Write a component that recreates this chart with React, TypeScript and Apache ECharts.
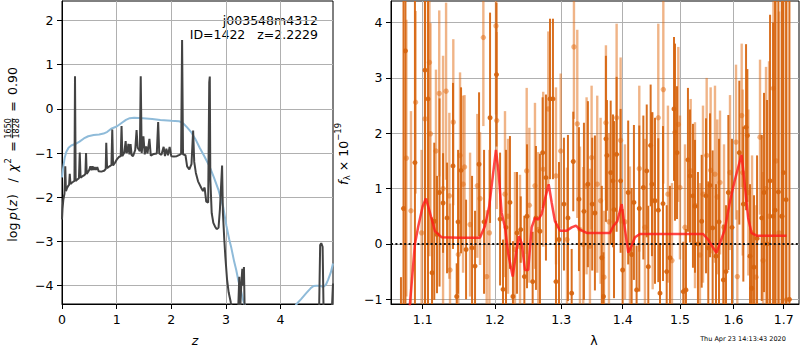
import React, { useEffect, useRef } from 'react';
import * as echarts from 'echarts';

const FONT = "'DejaVu Sans', sans-serif";

const Z_TICKS = [0, 1, 2, 3, 4];
const LOGP_TICKS = [-4, -3, -2, -1, 0, 1, 2];
const LAMBDA_TICKS = [1.1, 1.2, 1.3, 1.4, 1.5, 1.6, 1.7];
const FLUX_TICKS = [-1, 0, 1, 2, 3, 4];

// [z, log p(z)] smooth prior-like curve (blue)
const PZ_SMOOTH = [
  [0, -1.55], [0.02, -1.35], [0.05, -1.1], [0.08, -0.97], [0.12, -0.88], [0.17, -0.83], [0.25, -0.79],
  [0.32, -0.74], [0.4, -0.67], [0.48, -0.62], [0.58, -0.59], [0.68, -0.58], [0.76, -0.56], [0.83, -0.52],
  [0.9, -0.45], [1.0, -0.4], [1.09, -0.32], [1.17, -0.25], [1.24, -0.21], [1.32, -0.2], [1.48, -0.21],
  [1.65, -0.23], [1.8, -0.25], [2.0, -0.27], [2.14, -0.28], [2.22, -0.33], [2.29, -0.42], [2.36, -0.52],
  [2.44, -0.68], [2.52, -0.88], [2.6, -1.06], [2.7, -1.3], [2.78, -1.55], [2.86, -1.82], [2.95, -2.22],
  [3.01, -2.65], [3.06, -2.95], [3.1, -3.15], [3.15, -3.45], [3.19, -3.65], [3.23, -3.9], [3.27, -4.08],
  [3.32, -4.35], [3.38, -4.55], [3.6, -4.9], [4.05, -4.9], [4.29, -4.42], [4.38, -4.3], [4.47, -4.17],
  [4.55, -4.06], [4.6, -4.01], [4.66, -4.0], [4.72, -4.0], [4.78, -4.03], [4.83, -3.98], [4.87, -3.87],
  [4.92, -3.7], [4.96, -3.5],
];

// [z, log p(z)] fitted redshift probability (dark)
const PZ_FIT = [
  [0, -2.5], [0.01, -2.25], [0.025, -2.05], [0.045, -1.92], [0.06, -1.3], [0.072, -1.86], [0.09, -1.8],
  [0.115, -1.74], [0.13, -1.72], [0.142, -1.47], [0.155, -1.7], [0.18, -1.67], [0.205, -1.65], [0.228, -1.63],
  [0.238, 0.74], [0.25, -1.63], [0.28, -1.6], [0.31, -1.57], [0.325, -0.99], [0.34, -1.56], [0.37, -1.53],
  [0.41, -1.5], [0.428, -1.47], [0.44, -1.0], [0.452, -1.47], [0.48, -1.42], [0.5, -1.38], [0.52, -1.3],
  [0.54, -1.39], [0.56, -1.3], [0.58, -1.38], [0.6, -1.32], [0.62, -1.38], [0.645, -1.32], [0.67, -1.41],
  [0.72, -1.42], [0.77, -1.4], [0.8, -1.36], [0.81, -0.77], [0.825, -1.34], [0.87, -1.3], [0.905, -1.27],
  [0.92, -0.47], [0.935, -1.28], [0.97, -1.22], [1.0, -1.15], [1.04, -1.09], [1.075, -1.07], [1.09, -0.39],
  [1.105, -1.07], [1.14, -0.99], [1.165, -0.73], [1.18, -1.0], [1.2, -0.96], [1.215, -0.79], [1.235, -1.03],
  [1.255, -0.8], [1.275, -1.05], [1.3, -1.07], [1.34, -0.93], [1.365, -0.48], [1.385, -0.88], [1.425, -0.96],
  [1.441, 0.74], [1.458, -1.0], [1.49, -0.62], [1.515, -1.03], [1.54, -0.85], [1.565, -1.01], [1.6, -0.68],
  [1.625, -1.06], [1.68, -1.02], [1.735, -1.01], [1.76, -0.3], [1.78, -1.01], [1.82, -1.04], [1.86, -0.86],
  [1.885, -1.07], [1.91, -0.9], [1.94, -1.05], [1.97, -0.86], [2.0, -1.07], [2.05, -1.08], [2.1, -1.07],
  [2.15, -1.04], [2.18, -1.02], [2.198, 1.56], [2.215, -1.03], [2.26, -1.05], [2.29, -1.3], [2.33, -1.37],
  [2.37, -1.25], [2.4, -0.49], [2.42, -1.2], [2.45, -1.45], [2.49, -1.64], [2.55, -1.79], [2.58, -1.86],
  [2.61, -1.78], [2.64, -2.1], [2.675, -2.12], [2.695, 0.6], [2.705, 0.73], [2.715, -1.6], [2.74, -2.36],
  [2.77, -2.58], [2.8, -2.66], [2.83, -2.72], [2.865, -2.69], [2.89, -2.28], [2.93, -1.28], [2.945, -2.35],
  [2.97, -2.95], [2.99, -3.35], [3.02, -3.85], [3.05, -4.15], [3.09, -4.38], [3.13, -4.6], [3.22, -4.7],
  [3.245, -3.8], [3.26, -4.6], [3.28, -4.0], [3.3, -3.62], [3.315, -4.0], [3.33, -3.58], [3.345, -4.7],
  [3.5, -5], [4.7, -5], [4.725, -3.08], [4.745, -3.04], [4.77, -3.12], [4.79, -4.8], [4.93, -4.8], [4.96, -3.95],
];

// [lambda (um), flux] best-fit model (red)
const MODEL = [
  [1.0815, -1.4], [1.0833, -1.08], [1.0898, 0.0], [1.0942, 0.32], [1.1, 0.68], [1.1044, 0.82], [1.1098, 0.56],
  [1.1165, 0.23], [1.1256, 0.12], [1.15, 0.11], [1.1786, 0.11], [1.1857, 0.32], [1.1919, 0.68], [1.1977, 1.29],
  [1.2016, 1.7], [1.2055, 1.29], [1.2099, 0.56], [1.2148, 0.3], [1.2196, -0.18], [1.2261, -0.59], [1.232, -0.1],
  [1.2354, 0.14], [1.2394, 0.02], [1.2444, -0.47], [1.2493, -0.47], [1.2545, 0.3], [1.2595, 0.47], [1.2645, 0.44],
  [1.2697, 0.54], [1.2748, 0.81], [1.2805, 1.08], [1.2851, 0.75], [1.2902, 0.41], [1.2981, 0.24], [1.3086, 0.24],
  [1.3165, 0.3], [1.3233, 0.33], [1.3297, 0.26], [1.3405, 0.2], [1.3787, 0.2], [1.3842, 0.32], [1.3909, 0.41],
  [1.3983, 0.72], [1.4039, 0.26], [1.4095, -0.16], [1.4153, -0.03], [1.4209, 0.12], [1.4295, 0.18], [1.5425, 0.18],
  [1.5518, 0.08], [1.5601, -0.05], [1.5676, -0.16], [1.5752, 0.04], [1.5834, 0.26], [1.5929, 0.75], [1.6026, 1.15],
  [1.611, 1.45], [1.6157, 1.61], [1.6222, 1.05], [1.6286, 0.47], [1.6353, 0.2], [1.6452, 0.15], [1.7057, 0.15],
];

// [lambda (um), flux, error] - first grism spectrum (dark orange)
const SPEC_A = [
  [1.0716, -1.3, 0.7], [1.0749, 0.64, 6], [1.0774, 3.49, 6], [1.0898, 1.47, 6], [1.1031, 3.14, 6], [1.1071, 2.62, 6],
  [1.1125, -0.52, 1.0], [1.1155, 0.41, 1.42], [1.1192, 0.17, 1.06], [1.1226, 0.93, 1.7], [1.1274, 0.74, 0.9],
  [1.1328, 0.47, 1.0], [1.141, 1.41, 1.5], [1.1461, -0.95, 0.6], [1.148, 0.4, 1.3], [1.1521, 1.33, 1.5],
  [1.1591, -0.1, 0.9], [1.1675, -0.07, 1.3], [1.1717, -0.4, 1.0], [1.1774, 1.44, 1.3], [1.1845, 0.4, 1.3],
  [1.1931, 2.28, 1.9], [1.2024, 3.06, 1.3], [1.2076, 0.45, 1.2], [1.2119, -0.82, 0.9], [1.2163, 0.3, 1.4],
  [1.2221, 0.75, 1.2], [1.2265, -0.95, 1.0], [1.2325, 0.2, 1.1], [1.2381, 0.26, 0.6], [1.2435, -0.59, 1.1],
  [1.2475, 0.5, 1.3], [1.256, -0.68, 0.9], [1.261, 0.47, 1.3], [1.2671, 0.23, 1.4], [1.2712, 1.65, 1.0],
  [1.2763, 1.2, 1.5], [1.2825, 2.62, 1.45], [1.2871, 2.62, 1.45], [1.2918, -0.68, 1.1], [1.2965, 0.08, 1.4],
  [1.3043, 0.72, 1.2], [1.3106, 0.47, 1.5], [1.3165, -0.89, 0.8], [1.319, 1.49, 0.9], [1.3281, 0.81, 1.3],
  [1.3361, 0.59, 1.6], [1.3425, 1.08, 1.5], [1.3495, 0.72, 1.2], [1.3539, 0.56, 1.4], [1.3652, -0.25, 1.3],
  [1.3679, -0.95, 0.8], [1.372, 1.9, 1.5], [1.3737, 1.6, 1.0], [1.3799, 1.29, 1.3], [1.3837, 1.14, 1.2],
  [1.3854, 0.62, 1.6], [1.3898, 1.62, 1.4], [1.3965, 1.14, 1.3], [1.3999, -0.47, 1.1], [1.4093, 0.93, 1.3],
  [1.4152, -0.19, 1.2], [1.4191, 0.75, 1.4], [1.4237, -0.83, 0.8], [1.4283, 0.64, 1.5], [1.4353, 1.02, 1.3],
  [1.4412, 1.32, 1.2], [1.4439, -0.41, 1.1], [1.448, 1.78, 1.1], [1.4503, 1.08, 1.3], [1.4556, 0.78, 1.5],
  [1.4614, 0.61, 1.3], [1.4644, -0.89, 0.9], [1.4697, 0.73, 1.4], [1.4763, -0.5, 1.2], [1.4821, -0.25, 1.3],
  [1.4893, 2.44, 1.3], [1.4911, 2.02, 1.6], [1.4947, 1.65, 1.2], [1.5061, -0.86, 0.9], [1.511, -0.83, 1.1],
  [1.5146, 1.52, 1.3], [1.5183, 1.23, 1.2], [1.5238, 0.87, 1.3], [1.5275, 0.68, 1.2], [1.533, 0.0, 1.3],
  [1.5399, 0.41, 1.2], [1.5479, 0.87, 1.4], [1.5522, -0.07, 1.2], [1.5554, 1.06, 1.3], [1.5604, 0.29, 1.4],
  [1.5667, -0.22, 1.3], [1.5724, 0.4, 1.5], [1.5806, -0.65, 1.0], [1.5857, -0.5, 1.2], [1.5902, 0.93, 1.4],
  [1.5972, 0.3, 1.6], [1.6114, 1.65, 1.3], [1.6192, 0.72, 1.4], [1.6245, 2.11, 1.5], [1.6271, 1.96, 1.2],
  [1.6323, -0.22, 1.3], [1.6357, -0.8, 1.0], [1.6402, -0.42, 1.3], [1.6462, 0.1, 1.5], [1.6555, 0.47, 1.5],
  [1.6601, 0.93, 1.8], [1.6661, 0.0, 2.6], [1.6722, 1.14, 3.0], [1.6783, 0.5, 3.5], [1.6823, 0.61, 4.5],
  [1.6891, 0.94, 5], [1.6961, 0.5, 6], [1.6993, 1.29, 6], [1.7049, 0.8, 7], [1.7117, -1.0, 8],
];

// [lambda (um), flux, error] - second grism spectrum (light orange)
const SPEC_B = [
  [1.0786, 1.55, 2.5], [1.0846, 0.6, 1.8], [1.0907, 2.56, 1.65], [1.0986, 0.2, 1.5], [1.1031, 2.26, 3.5],
  [1.109, 3.28, 3.5], [1.1104, 1.99, 2.0], [1.1178, 1.68, 1.47], [1.1222, 2.72, 1.5], [1.1274, 1.0, 2.4],
  [1.1315, 2.76, 1.6], [1.136, 0.87, 1.5], [1.1369, -0.47, 1.2], [1.1414, 2.2, 1.5], [1.1483, -0.19, 1.2],
  [1.1507, 1.6, 1.5], [1.1549, 1.08, 1.6], [1.157, 1.39, 1.3], [1.1647, 0.35, 1.3], [1.1749, 1.05, 1.3],
  [1.1788, 0.82, 1.2], [1.1835, 3.73, 1.6], [1.1883, -0.59, 1.2], [1.1922, 0.2, 1.5], [1.2017, 3.94, 1.6],
  [1.2027, 2.23, 1.6], [1.2148, 0.9, 1.5], [1.2192, 0.5, 1.4], [1.2295, -0.1, 1.4], [1.237, -0.05, 1.3],
  [1.247, 1.32, 1.5], [1.251, 0.7, 1.4], [1.2595, 1.05, 1.5], [1.2645, 0.26, 1.4], [1.2721, 1.35, 1.4],
  [1.2799, 2.44, 1.4], [1.2918, 1.23, 1.6], [1.2992, 1.68, 1.4], [1.3091, 0.08, 1.3], [1.3201, 3.56, 1.3],
  [1.3254, 2.17, 1.7], [1.3297, 0.26, 1.5], [1.335, -0.01, 1.4], [1.3404, 1.05, 1.6], [1.3458, -0.04, 1.4],
  [1.3485, 1.56, 1.3], [1.3577, 1.08, 1.6], [1.3632, 0.78, 1.5], [1.3688, -0.6, 1.2], [1.372, 2.19, 1.4],
  [1.377, 0.4, 1.6], [1.3898, 2.28, 1.7], [1.3965, 1.87, 1.5], [1.4038, 0.4, 1.4], [1.4123, -0.1, 1.5],
  [1.4283, 1.36, 1.5], [1.4381, 0.3, 1.6], [1.4515, 0.78, 1.6], [1.4614, 2.28, 1.7], [1.4703, 2.79, 1.7],
  [1.4785, 0.9, 1.6], [1.4857, -0.3, 1.4], [1.4971, 2.16, 1.4], [1.5001, 1.02, 1.3], [1.5092, 0.3, 1.5],
  [1.5196, 1.32, 1.3], [1.5275, 0.7, 1.5], [1.5367, -0.2, 1.3], [1.5423, 0.9, 1.6], [1.5492, 1.6, 1.4],
  [1.5566, 1.33, 1.5], [1.5648, 1.26, 1.6], [1.5691, 0.85, 1.4], [1.5743, 1.11, 1.3], [1.5819, 0.3, 1.5],
  [1.5934, 1.29, 1.4], [1.605, 1.84, 1.4], [1.6075, -0.59, 1.2], [1.616, 2.32, 1.3], [1.618, 1.29, 1.5],
  [1.629, 0.93, 1.5], [1.6363, 0.2, 1.4], [1.6442, -0.6, 1.3], [1.6521, 1.93, 1.4], [1.6581, -0.3, 1.6],
  [1.6641, 1.0, 2.2], [1.6702, 0.5, 2.8], [1.679, 2.81, 2.8], [1.6843, 1.5, 3.5], [1.6904, 0.2, 4],
  [1.6966, 0.5, 5], [1.7057, -1.01, 6],
];

const fmtMinus = (v: number) => (v < 0 ? '\u2212' + Math.abs(v) : String(v));

const axisCommon = (custom: number[], fmt: (v: number) => string, margin: number) => ({
  axisLine: { show: true, onZero: false, lineStyle: { color: '#000', width: 1 } },
  axisTick: { show: true, length: 5, inside: false, customValues: custom, lineStyle: { color: '#000', width: 1 } },
  axisLabel: { customValues: custom, color: '#000', fontSize: 12.5, fontFamily: FONT, formatter: fmt, margin },
  splitLine: { show: true, lineStyle: { color: '#b0b0b0', width: 1 } },
});

const errorBars = (data: number[][], color: string, lw: number, r: number, z: number) => ({
  type: 'custom',
  xAxisIndex: 1,
  yAxisIndex: 1,
  z,
  clip: true,
  silent: true,
  encode: { x: 0, y: 1 },
  data: data.map(([l, f, e]) => [Math.log10(l), f, e]),
  renderItem: (_params: any, api: any) => {
    const x = api.value(0);
    const y = api.value(1);
    const e = api.value(2);
    const p1 = api.coord([x, y + e]);
    const p2 = api.coord([x, y - e]);
    const c = api.coord([x, y]);
    return {
      type: 'group',
      children: [
        { type: 'line', shape: { x1: p1[0], y1: p1[1], x2: p2[0], y2: p2[1] }, style: { stroke: color, lineWidth: lw } },
        { type: 'circle', shape: { cx: c[0], cy: c[1], r }, style: { fill: color } },
      ],
    };
  },
});

const txt = (text: string, x: number, y: number, size: number, extra: any = {}) => ({
  type: 'text',
  x,
  y,
  style: {
    text,
    fontSize: size,
    fontFamily: FONT,
    fill: '#000',
    align: 'left',
    verticalAlign: 'middle',
    textAlign: 'left',
    textVerticalAlign: 'middle',
    ...extra,
  },
});

export default function App() {
  const ref = useRef<HTMLDivElement>(null);

  useEffect(() => {
    if (!ref.current) return;
    const chart = echarts.init(ref.current, null, { renderer: 'svg' });
    const option: any = {
      animation: false,
      backgroundColor: '#fff',
      grid: [
        { left: 62, top: 1, width: 271, height: 303, show: true, borderColor: '#000', borderWidth: 1, backgroundColor: 'transparent' },
        { left: 391, top: 1, width: 408, height: 303, show: true, borderColor: '#000', borderWidth: 1, backgroundColor: 'transparent' },
      ],
      xAxis: [
        { type: 'value', gridIndex: 0, min: 0, max: 4.96, ...axisCommon(Z_TICKS, fmtMinus, 9) },
        {
          type: 'value', gridIndex: 1, min: Math.log10(1.0588), max: Math.log10(1.7316),
          ...axisCommon(LAMBDA_TICKS.map((v) => Math.log10(v)), (v: number) => Math.pow(10, v).toFixed(1), 9),
        },
      ],
      yAxis: [
        { type: 'value', gridIndex: 0, min: -4.415, max: 2.44, ...axisCommon(LOGP_TICKS, fmtMinus, 8.5) },
        { type: 'value', gridIndex: 1, min: -1.085, max: 4.39, ...axisCommon(FLUX_TICKS, fmtMinus, 8.5) },
      ],
      series: [
        {
          type: 'line', xAxisIndex: 0, yAxisIndex: 0, data: PZ_SMOOTH, showSymbol: false, symbol: 'none', z: 3, silent: true,
          lineStyle: { color: '#8fbbd9', width: 2 },
        },
        {
          type: 'line', xAxisIndex: 0, yAxisIndex: 0, data: PZ_FIT, showSymbol: false, symbol: 'none', z: 4, silent: true,
          lineStyle: { color: '#434343', width: 2 },
        },
        errorBars(SPEC_B, 'rgba(225,105,15,0.5)', 2.4, 2.7, 2),
        errorBars(SPEC_A, 'rgba(214,100,14,0.93)', 2, 2.5, 3),
        {
          type: 'line', xAxisIndex: 1, yAxisIndex: 1, data: [], z: 5, silent: true,
          markLine: {
            silent: true, symbol: ['none', 'none'], label: { show: false },
            lineStyle: { type: [2, 2.4], color: '#111', width: 2 },
            data: [{ yAxis: 0 }],
          },
        },
        {
          type: 'line', xAxisIndex: 1, yAxisIndex: 1, z: 6, silent: true,
          data: MODEL.map(([l, f]) => [Math.log10(l), f]),
          showSymbol: false, symbol: 'none',
          lineStyle: { color: 'rgba(255,25,25,0.8)', width: 2.5 },
        },
      ],
      graphic: [
        txt('j003548m4312', 318, 20.6, 12.5, { align: 'right', textAlign: 'right' }),
        txt('ID=1422   z=2.2229', 318, 34.9, 12.5, { align: 'right', textAlign: 'right' }),
        txt('z', 195, 340, 12.5, { align: 'center', textAlign: 'center', fontStyle: 'italic' }),
        txt('\u03bb', 594, 340, 12.5, { align: 'center', textAlign: 'center' }),
        txt('Thu Apr 23 14:13:43 2020', 743, 339, 6.5, { align: 'center', textAlign: 'center' }),
        {
          type: 'group', x: 12, y: 155, rotation: Math.PI / 2,
          children: [
            txt('log', -86.7, 0, 12.5),
            txt('p', -65, 0, 12.5, { fontStyle: 'italic' }),
            txt('(', -56.5, 0, 12.5),
            txt('z', -51.5, 0, 12.5, { fontStyle: 'italic' }),
            txt(')', -44, 0, 12.5),
            txt('/', -27.5, 0, 12.5),
            txt('\u03c7', -16.7, 0, 12.5, { fontStyle: 'italic' }),
            txt('2', -8.5, -4.5, 8.5),
            txt('=', 3.3, 0, 12.5),
            txt('1650', 26.7, -3.6, 8, { align: 'center', textAlign: 'center' }),
            { type: 'line', shape: { x1: 16.7, y1: 0.3, x2: 36.7, y2: 0.3 }, style: { stroke: '#000', lineWidth: 0.8 } },
            txt('1828', 26.7, 4.6, 8, { align: 'center', textAlign: 'center' }),
            txt('=', 43.3, 0, 12.5),
            txt('0.90', 60, 0, 12.5),
          ],
        },
        {
          type: 'group', x: 343, y: 153.3, rotation: Math.PI / 2,
          children: [
            txt('f', -31.7, 0, 12.5, { fontStyle: 'italic' }),
            txt('\u03bb', -27, 3.8, 8.5),
            txt('\u00d7', -18, 0, 12.5),
            txt('10', -3.5, 0, 12.5),
            txt('\u221219', 12.5, -5, 8.5),
          ],
        },
      ],
    };
    chart.setOption(option);
    return () => chart.dispose();
  }, []);

  return <div ref={ref} style={{ position: 'fixed', left: 0, top: 0, width: 800, height: 350 }} />;
}
